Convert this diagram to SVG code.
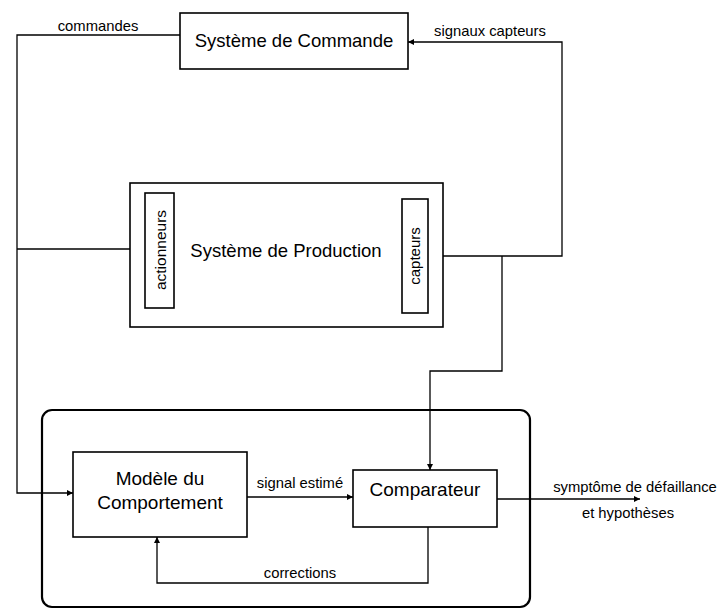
<svg xmlns="http://www.w3.org/2000/svg" width="720" height="615" viewBox="0 0 720 615">
<style>
.box{fill:#fff;stroke:#000;stroke-width:1.6}
.frame{fill:none;stroke:#000;stroke-width:2.2}
.ln{fill:none;stroke:#000;stroke-width:1.3}
.big{font-family:"Liberation Sans",Arial,sans-serif;font-size:18.5px;fill:#000;text-anchor:middle}
.mid{font-family:"Liberation Sans",Arial,sans-serif;font-size:19px;fill:#000;text-anchor:middle}
.sm{font-family:"Liberation Sans",Arial,sans-serif;font-size:14.8px;fill:#000;text-anchor:middle}
</style>
<defs>
<marker id="ah" viewBox="0 0 10 10" refX="10" refY="5" markerWidth="8" markerHeight="6" markerUnits="userSpaceOnUse" orient="auto">
<path d="M0,0 L10,5 L0,10 z" fill="#000"/>
</marker>
</defs>
<g id="connectors">
<path class="ln" d="M180,35 H17 V493 H73" marker-end="url(#ah)"/>
<path class="ln" d="M17,249 H145" marker-end="url(#ah)"/>
<path class="ln" d="M428,256 H562 V42 H408" marker-end="url(#ah)"/>
<path class="ln" d="M502,256 V371 H430 V470" marker-end="url(#ah)"/>
<path class="ln" d="M247,497 H353" marker-end="url(#ah)"/>
<path class="ln" d="M428,527 V583 H157 V537" marker-end="url(#ah)"/>
<path class="ln" d="M497,499 H640" marker-end="url(#ah)"/>
<text class="sm" x="98" y="31">commandes</text>
<text class="sm" x="490" y="36">signaux capteurs</text>
<text class="sm" x="300" y="488">signal estimé</text>
<text class="sm" x="300" y="578">corrections</text>
<text class="sm" x="635" y="492">symptôme de défaillance</text>
<text class="sm" x="628" y="518">et hypothèses</text>
</g>
<g id="diagnostic-frame">
<rect class="frame" x="42" y="410" width="488" height="197" rx="10"/>
</g>
<g id="systeme-commande">
<rect class="box" x="180" y="13" width="228" height="56"/>
<text class="big" x="294" y="47">Système de Commande</text>
</g>
<g id="systeme-production">
<rect class="box" x="130" y="183" width="313" height="144"/>
<text class="big" x="286" y="257">Système de Production</text>
</g>
<g id="actionneurs">
<rect class="box" x="145" y="193" width="29" height="115"/>
<text class="sm" transform="translate(166,250) rotate(-90)" style="font-size:15.5px">actionneurs</text>
</g>
<g id="capteurs">
<rect class="box" x="402" y="199" width="26" height="114"/>
<text class="sm" transform="translate(420,256) rotate(-90)" style="font-size:15px">capteurs</text>
</g>
<g id="modele">
<rect class="box" x="73" y="452" width="174" height="85"/>
<text class="mid" x="160" y="485">Modèle du</text>
<text class="mid" x="160" y="509">Comportement</text>
</g>
<g id="comparateur">
<rect class="box" x="353" y="470" width="144" height="57"/>
<text class="mid" x="425" y="496">Comparateur</text>
</g>
</svg>
